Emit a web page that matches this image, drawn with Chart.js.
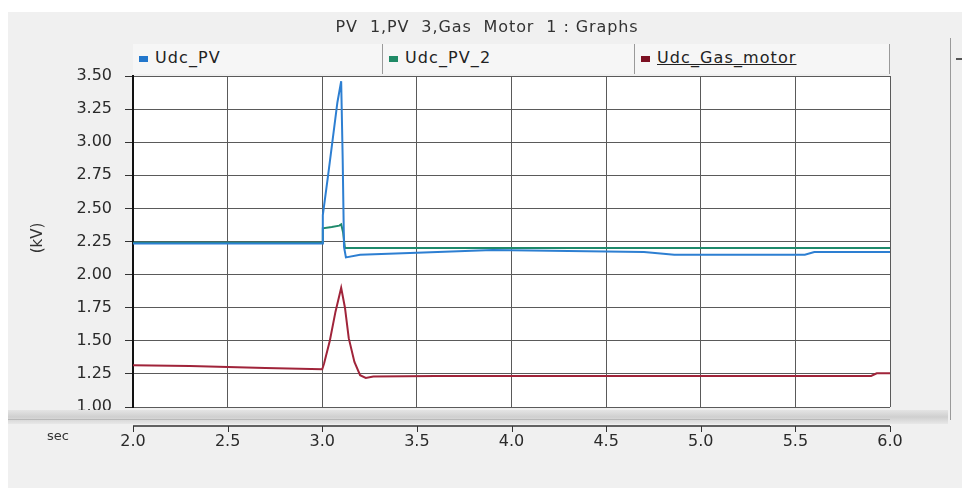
<!DOCTYPE html>
<html>
<head>
<meta charset="utf-8">
<script src="https://cdn.jsdelivr.net/npm/chart.js@4.4.1/dist/chart.umd.min.js"></script>
<style>
  html, body { margin: 0; padding: 0; background: #fff; }
  #wrap { position: relative; width: 962px; height: 488px; overflow: hidden; }
  #panel { position: absolute; left: 8px; top: 12px; right: 0; bottom: 0; background: #f0f0f0; }
  canvas { position: absolute; left: 0; top: 0; }
  .txt { position: absolute; font-family: "DejaVu Sans", Verdana, sans-serif; color: #333; white-space: pre; }
  #title { top: 17px; left: 6px; width: 962px; text-align: center; font-size: 16px; letter-spacing: 0.9px; }
  #legend { position: absolute; top: 44px; left: 133px; width: 757px; height: 30px; background: #f6f6f6; }
  .item { position: absolute; top: 0; height: 30px; border-right: 1px solid #9a9a9a; }
  .item .sw { position: absolute; left: 6px; top: 12px; width: 9px; height: 6px; }
  .item .lb { position: absolute; left: 22px; top: 4px; font-family: "DejaVu Sans", Verdana, sans-serif; font-size: 16px; color: #222; letter-spacing: 1.1px; }
  #kv { left: 22px; top: 229px; font-size: 15px; transform: rotate(-90deg); transform-origin: center; }
  #sec { left: 47px; top: 428px; font-size: 13px; }
  #rbar { position: absolute; left: 950px; top: 38px; width: 1px; height: 382px; background: #9a9a9a; }
  #rtick { position: absolute; left: 956px; top: 58px; width: 6px; height: 2px; background: #555; }
</style>
</head>
<body>
<div id="wrap">
  <div id="panel"></div>
  <canvas id="graph" width="962" height="488"></canvas>
  <div id="title" class="txt">PV  1,PV  3,Gas  Motor  1 : Graphs</div>
  <div id="legend"></div>
  <div id="kv" class="txt">(kV)</div>
  <div id="sec" class="txt">sec</div>
  <div id="rbar"></div>
  <div id="rtick"></div>
</div>
<script>
// Udc_PV
const pvTime = [2.0, 2.9, 3.0, 3.003, 3.03, 3.055, 3.08, 3.1, 3.108, 3.115, 3.125, 3.2, 3.5, 3.9, 4.2, 4.7, 4.86, 5.55, 5.6, 6.0];
const pvVolts = [2.235, 2.235, 2.235, 2.45, 2.74, 3.02, 3.30, 3.46, 2.87, 2.21, 2.13, 2.15, 2.165, 2.185, 2.18, 2.17, 2.15, 2.15, 2.17, 2.17];

// Udc_PV_2
const pv2Time = [2.0, 3.0, 3.003, 3.05, 3.09, 3.1, 3.11, 3.12, 3.2, 6.0];
const pv2Volts = [2.24, 2.24, 2.35, 2.36, 2.37, 2.38, 2.32, 2.2, 2.2, 2.2];

// Udc_Gas_motor
const gasTime = [2.0, 2.3, 2.7, 3.0, 3.01, 3.04, 3.07, 3.1, 3.12, 3.14, 3.17, 3.2, 3.23, 3.27, 3.6, 5.9, 5.93, 6.0];
const gasVolts = [1.315, 1.31, 1.295, 1.285, 1.33, 1.5, 1.72, 1.9, 1.75, 1.52, 1.34, 1.24, 1.22, 1.23, 1.235, 1.235, 1.255, 1.255];

const seriesNames = ['Udc_PV', 'Udc_PV_2', 'Udc_Gas_motor'];
const lineColors = ['#2d7fd2', '#1f8a6c', '#a0243a'];
const swatchColors = ['#2277cc', '#1f8a66', '#7c1022'];

const xTicks = [2.0, 2.5, 3.0, 3.5, 4.0, 4.5, 5.0, 5.5, 6.0];

const toPoints = (t, v) => t.map((x, i) => ({ x: x, y: v[i] }));

// legend strip above the plot
const legendEl = document.getElementById('legend');
const itemW = [250, 252, 255];
let left = 0;
seriesNames.forEach((name, i) => {
  const d = document.createElement('div');
  d.className = 'item';
  d.style.left = left + 'px';
  d.style.width = (itemW[i] - 1) + 'px';
  d.innerHTML = `<span class="sw" style="background:${swatchColors[i]}"></span><span class="lb"${i === 2 ? ' style="text-decoration:underline"' : ''}>${name}</span>`;
  legendEl.appendChild(d);
  left += itemW[i];
});

// white plot area, separate time axis strip below it
const plotDecor = {
  id: 'plotDecor',
  beforeDraw(chart) {
    const { ctx, chartArea: a } = chart;
    ctx.save();
    ctx.fillStyle = '#ffffff';
    ctx.fillRect(a.left, a.top, a.right - a.left, a.bottom - a.top);
    ctx.restore();
  },
  afterDraw(chart) {
    const { ctx, chartArea: a, scales } = chart;
    ctx.save();
    const g = ctx.createLinearGradient(0, a.bottom + 3, 0, a.bottom + 17);
    g.addColorStop(0, '#e4e4e4');
    g.addColorStop(0.5, '#cfcfcf');
    g.addColorStop(1, '#e8e8e8');
    ctx.fillStyle = g;
    ctx.fillRect(8, a.bottom + 3, a.right + 50, 14);
    ctx.fillStyle = '#b8b8b8';
    ctx.fillRect(8, a.bottom + 12, a.right - 8, 1);

    const axisY = a.bottom + 19;
    ctx.strokeStyle = '#333';
    ctx.lineWidth = 1.5;
    ctx.beginPath();
    ctx.moveTo(a.left, axisY);
    ctx.lineTo(a.right, axisY);
    ctx.stroke();
    ctx.lineWidth = 1;
    xTicks.forEach(v => {
      const px = Math.round(scales.x.getPixelForValue(v)) + 0.5;
      ctx.beginPath();
      ctx.moveTo(px, axisY);
      ctx.lineTo(px, axisY + 6);
      ctx.stroke();
    });
    ctx.restore();
  }
};

new Chart(document.getElementById('graph'), {
  type: 'line',
  data: {
    datasets: [
      { label: seriesNames[0], data: toPoints(pvTime, pvVolts), borderColor: lineColors[0] },
      { label: seriesNames[1], data: toPoints(pv2Time, pv2Volts), borderColor: lineColors[1] },
      { label: seriesNames[2], data: toPoints(gasTime, gasVolts), borderColor: lineColors[2] }
    ]
  },
  options: {
    responsive: false,
    animation: false,
    events: [],
    layout: { padding: { top: 76, right: 72, bottom: 0, left: 0 } },
    elements: {
      line: { borderWidth: 2, tension: 0, fill: false },
      point: { radius: 0 }
    },
    scales: {
      x: {
        type: 'linear',
        min: 2,
        max: 6,
        afterFit: s => { s.height = 81; },
        afterBuildTicks: s => { s.ticks = xTicks.map(v => ({ value: v })); },
        ticks: {
          padding: 25,
          color: '#2a2a2a',
          font: { family: 'DejaVu Sans', size: 16 },
          callback: v => v.toFixed(1)
        },
        grid: { color: '#5a5a5a', drawTicks: false },
        border: { display: false }
      },
      y: {
        min: 1,
        max: 3.5,
        afterFit: s => { s.width = 133; },
        ticks: {
          stepSize: 0.25,
          padding: 13,
          color: '#2a2a2a',
          font: { family: 'DejaVu Sans', size: 16 },
          callback: v => v.toFixed(2)
        },
        grid: { color: '#5a5a5a', tickLength: 8, tickColor: '#333' },
        border: { color: '#111', width: 2 }
      }
    },
    plugins: {
      legend: { display: false },
      tooltip: { enabled: false }
    }
  },
  plugins: [plotDecor]
});
</script>
</body>
</html>
